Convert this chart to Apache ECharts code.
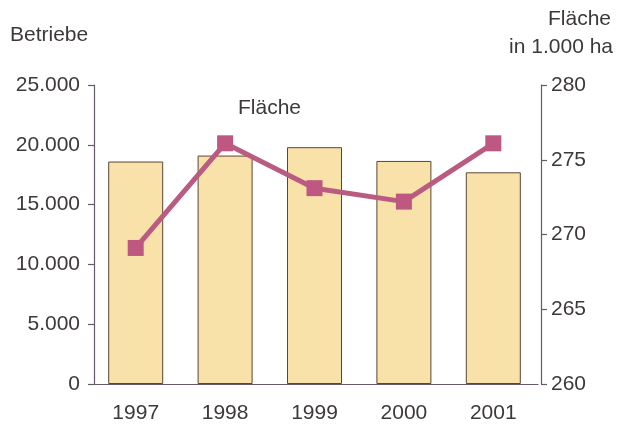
<!DOCTYPE html>
<html>
<head>
<meta charset="utf-8">
<script src="https://cdn.jsdelivr.net/npm/echarts@6/dist/echarts.min.js"></script>
<style>html,body{margin:0;padding:0;background:#fff}#c{width:617px;height:424px}</style>
</head>
<body>
<div id="c"></div>
<script>
var years = ['1997', '1998', '1999', '2000', '2001'];
var betriebe = [18600, 19100, 19800, 18650, 17700];
var flaeche = [269.1, 276.1, 273.1, 272.2, 276.1];
var leftTicks = {min: 0, max: 25000, interval: 5000};
var rightTicks = {min: 260, max: 280, interval: 5};

var textColor = '#3d383c';
var axisColor = '#655a68';
var font = 'Liberation Sans, Arial, sans-serif';
var fs = 21;

var chart = echarts.init(document.getElementById('c'));
chart.setOption({
  animation: false,
  grid: {left: 91, right: 79, top: 85, bottom: 39},
  xAxis: {
    type: 'category',
    data: years,
    axisLine: {lineStyle: {color: axisColor, width: 1.2}},
    axisTick: {show: false},
    axisLabel: {color: textColor, fontSize: fs, fontFamily: font, margin: 19}
  },
  yAxis: [{
    type: 'value',
    min: leftTicks.min, max: leftTicks.max, interval: leftTicks.interval,
    offset: -3,
    axisLine: {show: true, lineStyle: {color: axisColor, width: 1.2}},
    axisTick: {show: true, length: 6, lineStyle: {color: axisColor, width: 1.2}},
    splitLine: {show: false},
    axisLabel: {
      color: textColor, fontSize: fs, fontFamily: font, margin: 14,
      formatter: function (v) { return v === 0 ? '0' : (v / 1000).toFixed(3); }
    }
  }, {
    type: 'value',
    min: rightTicks.min, max: rightTicks.max, interval: rightTicks.interval,
    offset: 3,
    axisLine: {show: true, lineStyle: {color: axisColor, width: 1.2}},
    axisTick: {show: true, length: 6, lineStyle: {color: axisColor, width: 1.2}},
    splitLine: {show: false},
    axisLabel: {color: textColor, fontSize: fs, fontFamily: font, margin: 10}
  }],
  series: [{
    type: 'bar',
    data: betriebe,
    barWidth: 55,
    itemStyle: {color: '#F9E1AA', borderColor: '#5a4636', borderWidth: 1}
  }, {
    type: 'line',
    yAxisIndex: 1,
    data: flaeche,
    symbol: 'rect',
    symbolSize: 16,
    lineStyle: {color: '#BA5C82', width: 5},
    itemStyle: {color: '#BF5880'}
  }],
  graphic: [
    {type: 'text', left: 10, top: 25, style: {text: 'Betriebe', fill: textColor, font: fs + 'px ' + font}},
    {type: 'text', right: 6, top: 9, style: {text: 'Fläche', fill: textColor, font: fs + 'px ' + font}},
    {type: 'text', right: 4, top: 37, style: {text: 'in 1.000 ha', fill: textColor, font: fs + 'px ' + font}},
    {type: 'text', left: 238, top: 98, style: {text: 'Fläche', fill: textColor, font: fs + 'px ' + font}}
  ]
});
</script>
</body>
</html>
